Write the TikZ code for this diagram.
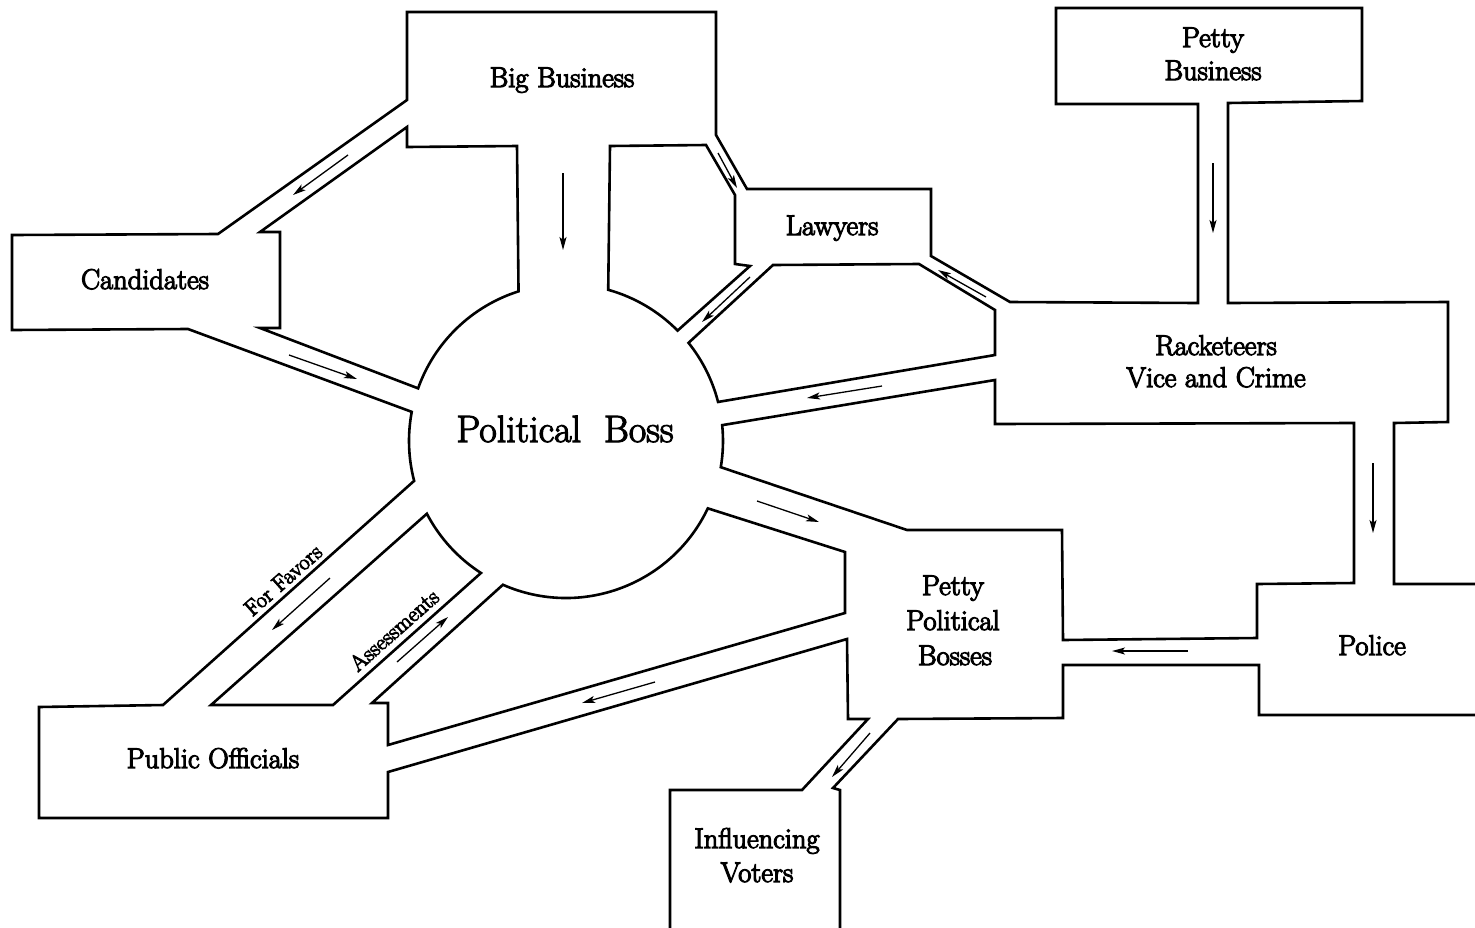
\documentclass[tikz,border=0pt]{standalone}
\usepackage{fontspec}
\newfontfamily\heavy{Latin Modern Roman}[FakeBold=4]
\newfontfamily\heavyb{Latin Modern Roman}[FakeBold=3]
\usetikzlibrary{arrows.meta,calc}
\begin{document}
\begin{tikzpicture}[x=1pt,y=-1pt,
  outline/.style={line width=2.6pt,line join=miter},
  flow/.style={line width=1.3pt,-{Stealth[length=13pt,width=7pt,inset=3pt]}},
  lbl/.style={font=\heavy\fontsize{28.5}{32}\selectfont,anchor=base,inner sep=0pt},
  biglbl/.style={font=\heavyb\fontsize{38}{40}\selectfont,anchor=base,inner sep=0pt},
  tilt/.style={font=\heavy\fontsize{22.5}{24}\selectfont,rotate=41.5,inner sep=0pt}]
\useasboundingbox (0,0) rectangle (1475,927);
\fill[white] (0,0) rectangle (1475,927);
\coordinate (C) at (566,441);
\def\R{157}
% ---------- outline A (long outer chain) ----------
\draw[outline] (670,930) -- (670,790) -- (802,790) -- (868,719) -- (848,719) -- (847,639)
  -- (388,772) -- (388,818) -- (39,818) -- (39,707) -- (163,705)
  -- ($(C)+(165.3:\R)$) arc[start angle=165.3,end angle=190.7,radius=\R]
  -- (188,329) -- (12,330) -- (12,235) -- (218,234) -- (407,100) -- (407,12)
  -- (716,12) -- (716,135) -- (747,189) -- (931,189) -- (931,256) -- (1010,302)
  -- (1198,303) -- (1198,104) -- (1056,104) -- (1056,8) -- (1362,8) -- (1362,101)
  -- (1228,103) -- (1228,303) -- (1448,302) -- (1448,422) -- (1394,423)
  -- (1394,584) -- (1480,584);
% ---------- outline B ----------
\draw[outline] (1480,715) -- (1259,715) -- (1259,665) -- (1063,665) -- (1063,718)
  -- (898,719) -- (833,788) -- (840,790) -- (840,930);
% ---------- outline C (below racketeers) ----------
\draw[outline] (1354,423) -- (1354,583) -- (1257,584) -- (1257,638) -- (1063,640)
  -- (1062,530) -- (907,530) -- ($(C)+(9.6:\R)$) arc[start angle=9.6,end angle=-5.8,radius=\R]
  -- (995,380) -- (995,424) -- cycle;
% ---------- outline D ----------
\draw[outline] ($(C)+(25.4:\R)$) -- (845,552) -- (845,613) -- (388,745) -- (388,703)
  -- (372,703) -- ($(C)+(113.7:\R)$) arc[start angle=113.7,end angle=25.4,radius=\R] -- cycle;
% ---------- outline E ----------
\draw[outline] (211,705) -- (333,705) -- ($(C)+(122.8:\R)$)
  arc[start angle=122.8,end angle=152.4,radius=\R] -- cycle;
% ---------- outline F ----------
\draw[outline] (407,127) -- (260,232) -- (280,232) -- (280,328) -- (260,328)
  -- ($(C)+(199.6:\R)$) arc[start angle=199.6,end angle=252.4,radius=\R]
  -- (517,146) -- (407,147) -- cycle;
% ---------- outline G ----------
\draw[outline] (610,146) -- (706,145) -- (735,195) -- (735,264) -- (750,266)
  -- ($(C)+(315.3:\R)$) arc[start angle=315.3,end angle=285.6,radius=\R] -- cycle;
% ---------- outline H ----------
\draw[outline] ($(C)+(321.3:\R)$) -- (773,265) -- (919,264) -- (995,310) -- (995,355)
  -- ($(C)+(345.6:\R)$) arc[start angle=345.6,end angle=321.3,radius=\R] -- cycle;
% ---------- labels ----------
\node[lbl] (bigbiz) at (562,87) {Big Business};
\node[lbl] (pettybiz1) at (1213,47) {Petty};
\node[lbl] (pettybiz2) at (1213,80) {Business};
\node[lbl] (lawyers) at (832,235) {Lawyers};
\node[lbl] (candidates) at (145,289) {Candidates};
\node[lbl] (rack1) at (1216,355) {Racketeers};
\node[lbl] (rack2) at (1216,387) {Vice and Crime};
\node[biglbl] (boss) at (565,442) {Political\ \ Boss};
\node[lbl] (ppb1) at (953,595) {Petty};
\node[lbl] (ppb2) at (953,630) {Political};
\node[lbl] (ppb3) at (955,665) {Bosses};
\node[lbl] (police) at (1372,655) {Police};
\node[lbl] (public) at (213,768) {Public Officials};
\node[lbl] (infl1) at (757,848) {Influencing};
\node[lbl] (infl2) at (757,882) {Voters};
\node[tilt] (favors) at (283,580) {For Favors};
\node[tilt] (assess) at (394,630) {Assessments};
% ---------- flow arrows ----------
\coordinate (f1a) at (563,173);  \coordinate (f1b) at (563,250);
\coordinate (f2a) at (718,153);  \coordinate (f2b) at (737,188);
\coordinate (f3a) at (750,277);  \coordinate (f3b) at (702,322);
\coordinate (f4a) at (986,297);  \coordinate (f4b) at (938,270);
\coordinate (f5a) at (882,386);  \coordinate (f5b) at (807,398);
\coordinate (f6a) at (348,155);  \coordinate (f6b) at (293,195);
\coordinate (f7a) at (289,355);  \coordinate (f7b) at (357,379);
\coordinate (f8a) at (1213,163); \coordinate (f8b) at (1213,233);
\coordinate (f9a) at (1373,463); \coordinate (f9b) at (1373,533);
\coordinate (f10a) at (1188,651); \coordinate (f10b) at (1112,651);
\coordinate (f11a) at (757,501); \coordinate (f11b) at (819,522);
\coordinate (f12a) at (655,682); \coordinate (f12b) at (582,703);
\coordinate (f13a) at (330,578); \coordinate (f13b) at (272,630);
\coordinate (f14a) at (397,662); \coordinate (f14b) at (448,617);
\coordinate (f15a) at (870,733); \coordinate (f15b) at (832,777);
\foreach \i in {1,...,15} { \draw[flow] (f\i a) -- (f\i b); }
\end{tikzpicture}
\end{document}
